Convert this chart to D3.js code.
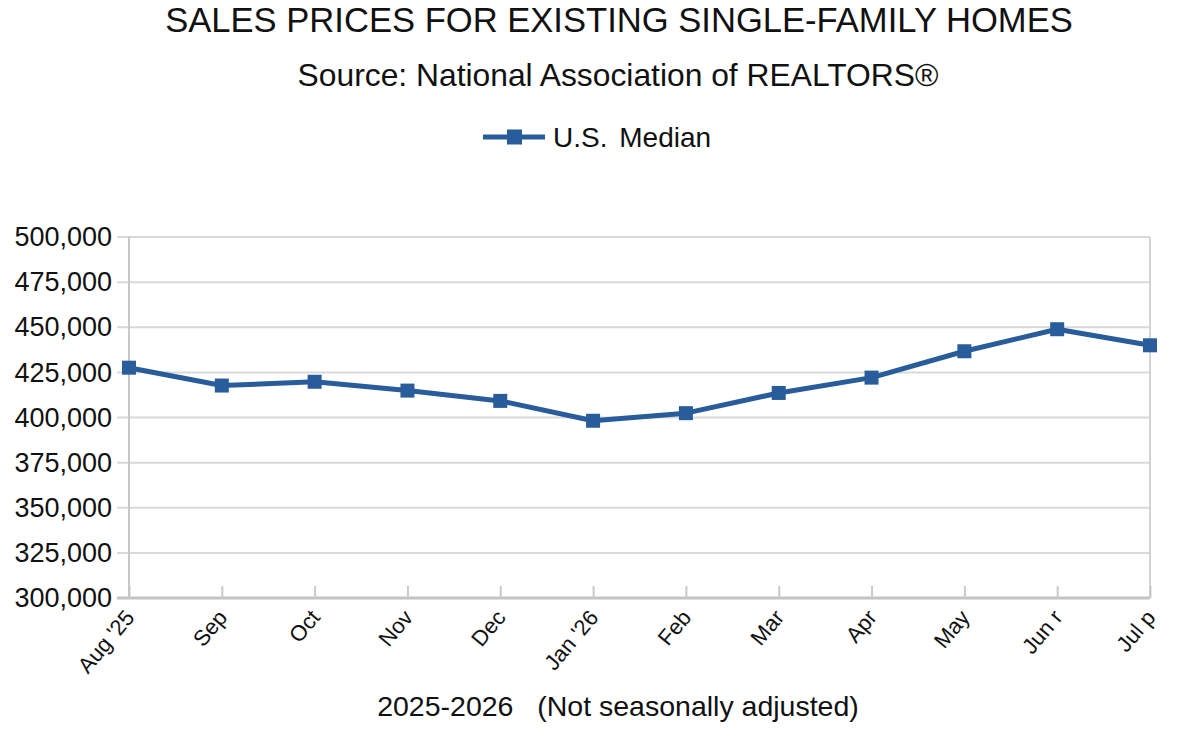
<!DOCTYPE html>
<html>
<head>
<meta charset="utf-8">
<script src="https://cdn.jsdelivr.net/npm/d3@7"></script>
<style>
  body { margin: 0; background: #fff; }
  text { font-family: "Liberation Sans", Arial, sans-serif; fill: #111; }
</style>
</head>
<body>
<svg width="1200" height="750"></svg>
<script>
var width = 1200;
var height = 750;
var margin = { top: 237, right: 50, bottom: 152, left: 129 };

// months shown on the x axis
var months = ["Aug '25", "Sep", "Oct", "Nov", "Dec", "Jan '26", "Feb", "Mar", "Apr", "May", "Jun r", "Jul p"];
// U.S. median sales price, single-family
var medianPrice = [427600, 417700, 419800, 414900, 409200, 398200, 402400, 413600, 422100, 436700, 448900, 440000];
var yTicks = [300000, 325000, 350000, 375000, 400000, 425000, 450000, 475000, 500000];

var data = months.map((m, i) => ({ month: m, value: medianPrice[i] }));

var svg = d3.select("svg");
var lineColor = "#285c9a";

var xScale = d3
  .scalePoint()
  .domain(months)
  .range([margin.left, width - margin.right]);

var yScale = d3
  .scaleLinear()
  .domain([300000, 500000])
  .range([height - margin.bottom, margin.top]);

// horizontal grid
svg.append("g")
  .selectAll("line")
  .data(yTicks)
  .enter()
  .append("line")
  .attr("x1", margin.left - 12)
  .attr("x2", width - margin.right)
  .attr("y1", (d) => yScale(d))
  .attr("y2", (d) => yScale(d))
  .attr("stroke", (d) => (d === 300000 ? "#c4c4c4" : "#d9d9d9"))
  .attr("stroke-width", (d) => (d === 300000 ? 3 : 2));

// left axis + right border
svg.append("line")
  .attr("x1", margin.left).attr("x2", margin.left)
  .attr("y1", margin.top).attr("y2", height - margin.bottom)
  .attr("stroke", "#c8c8c8").attr("stroke-width", 2);
svg.append("line")
  .attr("x1", width - margin.right).attr("x2", width - margin.right)
  .attr("y1", margin.top).attr("y2", height - margin.bottom)
  .attr("stroke", "#d4d4d4").attr("stroke-width", 2);

// Y AXIS labels
var yAxis = d3.axisLeft(yScale)
  .tickValues(yTicks)
  .tickSize(0)
  .tickPadding(17)
  .tickFormat(d3.format(","));
var yg = svg.append("g")
  .attr("transform", `translate(${margin.left}, 0)`)
  .call(yAxis);
yg.select(".domain").remove();
yg.selectAll("text")
  .style("font-size", "27px")
  .style("font-family", "Liberation Sans, Arial, sans-serif")
  .attr("fill", "#111");

// X AXIS - ticks point up into the plot
var xAxis = d3.axisBottom(xScale).tickSize(0).tickPadding(0);
var xg = svg.append("g")
  .attr("transform", `translate(0, ${height - margin.bottom})`)
  .call(xAxis);
xg.select(".domain").remove();
xg.selectAll(".tick")
  .append("line")
  .attr("y1", 0)
  .attr("y2", -12)
  .attr("stroke", "#c8c8c8")
  .attr("stroke-width", 2);
xg.selectAll("text")
  .attr("y", 0)
  .attr("dy", 0)
  .attr("transform", "translate(6, 20) rotate(-50)")
  .style("text-anchor", "end")
  .style("font-size", "22px")
  .style("font-family", "Liberation Sans, Arial, sans-serif")
  .attr("fill", "#111");

// the series line
var line = d3.line()
  .x((d) => xScale(d.month))
  .y((d) => yScale(d.value));

svg.append("path")
  .datum(data)
  .attr("d", line)
  .attr("fill", "none")
  .attr("stroke", lineColor)
  .attr("stroke-width", 5)
  .attr("stroke-linejoin", "round");

svg.append("g")
  .selectAll("rect")
  .data(data)
  .enter()
  .append("rect")
  .attr("x", (d) => xScale(d.month) - 7)
  .attr("y", (d) => yScale(d.value) - 7)
  .attr("width", 14)
  .attr("height", 14)
  .attr("fill", lineColor);

// CHART TITLE
svg.append("text")
  .attr("x", 619)
  .attr("y", 32)
  .style("text-anchor", "middle")
  .style("font-size", "34.6px")
  .text("SALES PRICES FOR EXISTING SINGLE-FAMILY HOMES");

svg.append("text")
  .attr("x", 618)
  .attr("y", 86)
  .style("text-anchor", "middle")
  .style("font-size", "31.8px")
  .text("Source: National Association of REALTORS®");

// LEGEND
var legend = svg.append("g").attr("transform", "translate(483, 137)");
legend.append("line")
  .attr("x1", 0).attr("x2", 62)
  .attr("stroke", lineColor).attr("stroke-width", 5);
legend.append("rect")
  .attr("x", 24).attr("y", -7.5)
  .attr("width", 15).attr("height", 15)
  .attr("fill", lineColor);
legend.append("text")
  .attr("x", 70)
  .attr("y", 10)
  .style("font-size", "28px")
  .style("word-spacing", "4px")
  .text("U.S. Median");

// X AXIS LABELLING
svg.append("text")
  .attr("x", 618)
  .attr("y", 716)
  .style("text-anchor", "middle")
  .style("font-size", "28.5px")
  .style("white-space", "pre")
  .text("2025-2026   (Not seasonally adjusted)");
</script>
</body>
</html>
